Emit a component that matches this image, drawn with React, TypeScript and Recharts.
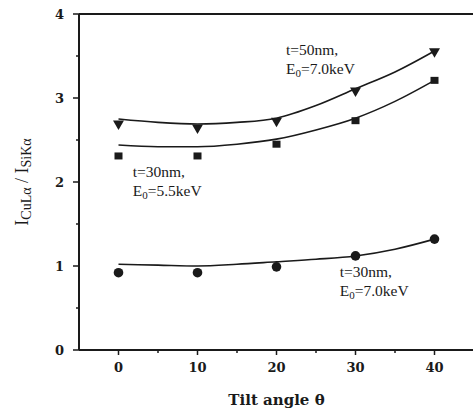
import {
    ComposedChart,
    Line,
    Scatter,
    XAxis,
    YAxis,
    ReferenceLine,
    ReferenceDot
} from "recharts"

// measured tilt angles and intensity ratios
const tilt = [0, 10, 20, 30, 40]
const t50E70 = [2.68, 2.63, 2.71, 3.07, 3.54]
const t30E55 = [2.31, 2.31, 2.45, 2.73, 3.21]
const t30E70 = [0.92, 0.92, 0.99, 1.12, 1.32]

// fitted curves
const fitTilt = [0, 5, 10, 15, 20, 25, 30, 35, 40]
const fitT50E70 = [2.75, 2.71, 2.69, 2.71, 2.76, 2.91, 3.11, 3.31, 3.56]
const fitT30E55 = [2.44, 2.42, 2.42, 2.45, 2.51, 2.62, 2.76, 2.96, 3.21]
const fitT30E70 = [1.02, 1.01, 1.0, 1.02, 1.05, 1.08, 1.12, 1.2, 1.32]

const xTicks = [0, 5, 10, 15, 20, 25, 30, 35, 40]
const yTicks = [0, 0.5, 1, 1.5, 2, 2.5, 3, 3.5, 4]

const zip = (xs: number[], ys: number[]) => xs.map((x, i) => ({ x, y: ys[i] }))

const AXIS_X = 79
const AXIS_Y = 350
const INK = "#1a1a1a"
const tickFont = "'DejaVu Serif', serif"
const noteFont = "'Liberation Serif', 'Times New Roman', serif"

const XTick = ({ x, payload }: any) => {
    const major = payload.value % 10 === 0
    return (
        <g>
            <line x1={x} x2={x} y1={AXIS_Y} y2={AXIS_Y + (major ? 5 : 3)} stroke={INK} strokeWidth={1.5} />
            {major && (
                <text x={x} y={AXIS_Y + 22} textAnchor="middle" fontFamily={tickFont}
                    fontWeight="bold" fontSize={13} fill={INK}>{payload.value}</text>
            )}
        </g>
    )
}

const YTick = ({ y, payload }: any) => {
    const major = payload.value % 1 === 0
    return (
        <g>
            <line x1={AXIS_X} x2={AXIS_X - (major ? 6 : 3)} y1={y} y2={y} stroke={INK} strokeWidth={1.5} />
            {major && (
                <text x={AXIS_X - 15} y={y + 5} textAnchor="end" fontFamily={tickFont}
                    fontWeight="bold" fontSize={13} fill={INK}>{payload.value}</text>
            )}
        </g>
    )
}

const TriDown = ({ cx, cy }: any) => (
    <path d={`M${cx - 5.5},${cy - 4.5} L${cx + 5.5},${cy - 4.5} L${cx},${cy + 5} Z`} fill={INK} />
)
const Square = ({ cx, cy }: any) => (
    <rect x={cx - 4} y={cy - 3.5} width={8} height={7} fill={INK} />
)
const Dot = ({ cx, cy }: any) => <circle cx={cx} cy={cy} r={4.8} fill={INK} />

// two-line annotation, second line has a subscript
const Note = (l1: string, sub: string, rest: string) => ({ cx, cy }: any) => (
    <text x={cx} y={cy} fontFamily={noteFont} fontSize={15.5} fill={INK}>
        <tspan x={cx} dy={0}>{l1}</tspan>
        <tspan x={cx} dy={19}>E</tspan>
        <tspan fontSize={11} dy={3}>{sub}</tspan>
        <tspan dy={-3}>{rest}</tspan>
    </text>
)

const YLabel = () => (
    <text transform="translate(28,182) rotate(-90)" textAnchor="middle"
        fontFamily={noteFont} fontSize={18} fill={INK}>
        <tspan>I</tspan>
        <tspan fontSize={14} dy={3}>CuLα</tspan>
        <tspan dy={-3}> / I</tspan>
        <tspan fontSize={14} dy={3}>SiKα</tspan>
    </text>
)

export default function App() {
    return (
        <div style={{ width: 473, height: 417, background: "#fff" }}>
            <style>{"body{margin:0}"}</style>
            <ComposedChart width={473} height={417} margin={{ top: 14, right: -1, left: 0, bottom: 0 }}>
                <XAxis
                    type="number"
                    dataKey="x"
                    domain={[-5, 45]}
                    ticks={xTicks}
                    height={67}
                    tickLine={false}
                    axisLine={{ stroke: INK, strokeWidth: 2 }}
                    tick={<XTick />}
                    label={{
                        value: "Tilt angle θ",
                        position: "insideBottom",
                        offset: 12,
                        style: { fontFamily: tickFont, fontWeight: "bold", fontSize: 15, fill: INK }
                    }}
                />
                <YAxis
                    type="number"
                    dataKey="y"
                    domain={[0, 4]}
                    ticks={yTicks}
                    width={79}
                    tickLine={false}
                    axisLine={{ stroke: INK, strokeWidth: 2 }}
                    tick={<YTick />}
                    label={{ content: <YLabel /> }}
                />
                <ReferenceLine y={4} stroke={INK} strokeWidth={2} />

                <Line data={zip(fitTilt, fitT50E70)} dataKey="y" type="monotone" stroke={INK}
                    strokeWidth={1.6} dot={false} isAnimationActive={false} />
                <Line data={zip(fitTilt, fitT30E55)} dataKey="y" type="monotone" stroke={INK}
                    strokeWidth={1.6} dot={false} isAnimationActive={false} />
                <Line data={zip(fitTilt, fitT30E70)} dataKey="y" type="monotone" stroke={INK}
                    strokeWidth={1.6} dot={false} isAnimationActive={false} />

                <Scatter data={zip(tilt, t50E70)} dataKey="y" shape={<TriDown />} isAnimationActive={false} />
                <Scatter data={zip(tilt, t30E55)} dataKey="y" shape={<Square />} isAnimationActive={false} />
                <Scatter data={zip(tilt, t30E70)} dataKey="y" shape={<Dot />} isAnimationActive={false} />

                <ReferenceDot x={21.2} y={3.51} r={0} shape={Note("t=50nm,", "0", "=7.0keV")} />
                <ReferenceDot x={1.8} y={2.06} r={0} shape={Note("t=30nm,", "0", "=5.5keV")} />
                <ReferenceDot x={28} y={0.87} r={0} shape={Note("t=30nm,", "0", "=7.0keV")} />
            </ComposedChart>
        </div>
    )
}
